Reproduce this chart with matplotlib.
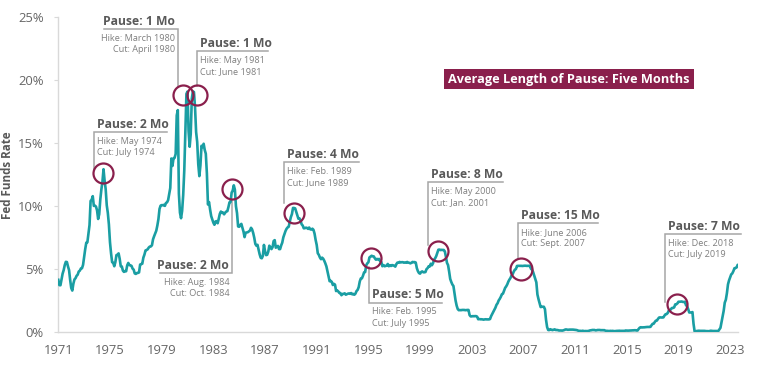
import numpy as np
import matplotlib
matplotlib.use("Agg")
import matplotlib.pyplot as plt

plt.rcParams['font.family'] = ['Open Sans', 'DejaVu Sans']

# effective fed funds rate, monthly from Jan 1971
rates = [
    4.14, 3.72, 3.71, 4.15, 4.63, 4.91, 5.31, 5.57, 5.55, 5.20, 4.91, 4.14,
    3.50, 3.29, 3.83, 4.17, 4.27, 4.46, 4.55, 4.80, 4.87, 5.04, 5.06, 5.33,
    5.94, 6.58, 7.09, 7.12, 7.84, 8.49, 10.40, 10.50, 10.78, 10.01, 10.03, 9.95,
    9.65, 8.97, 9.35, 10.51, 11.31, 11.93, 12.92, 12.01, 11.34, 10.06, 9.45, 8.53,
    7.13, 6.24, 5.54, 5.49, 5.22, 5.55, 6.10, 6.14, 6.24, 5.82, 5.22, 5.20,
    4.87, 4.77, 4.84, 4.82, 5.29, 5.48, 5.31, 5.29, 5.25, 5.03, 4.95, 4.65,
    4.61, 4.68, 4.69, 4.73, 5.35, 5.39, 5.42, 5.90, 6.14, 6.47, 6.51, 6.56,
    6.70, 6.78, 6.79, 6.89, 7.36, 7.60, 7.81, 8.04, 8.45, 8.96, 9.76, 10.03,
    10.07, 10.06, 10.09, 10.01, 10.24, 10.29, 10.47, 10.94, 11.43, 13.77, 13.18, 13.78,
    13.82, 14.13, 17.19, 17.61, 10.98, 9.47, 9.03, 9.61, 10.87, 12.81, 15.85, 18.90,
    19.08, 15.93, 14.70, 15.72, 18.52, 19.10, 19.04, 17.82, 15.87, 15.08, 13.31, 12.37,
    13.22, 14.78, 14.68, 14.94, 14.45, 14.15, 12.59, 10.12, 10.31, 9.71, 9.20, 8.95,
    8.68, 8.51, 8.77, 8.80, 8.63, 8.98, 9.37, 9.56, 9.45, 9.48, 9.34, 9.47,
    9.56, 9.59, 9.91, 10.29, 10.32, 11.06, 11.23, 11.64, 11.30, 9.99, 9.43, 8.38,
    8.35, 8.50, 8.58, 8.27, 7.97, 7.53, 7.88, 7.90, 7.92, 7.99, 8.05, 8.27,
    8.14, 7.86, 7.48, 6.99, 6.85, 6.92, 6.56, 6.17, 5.89, 5.85, 6.04, 6.91,
    6.43, 6.10, 6.13, 6.37, 6.85, 6.73, 6.58, 6.73, 7.22, 7.29, 6.69, 6.77,
    6.83, 6.58, 6.58, 6.87, 7.09, 7.51, 7.75, 8.01, 8.19, 8.30, 8.35, 8.76,
    9.12, 9.36, 9.85, 9.84, 9.81, 9.53, 9.24, 8.99, 9.02, 8.84, 8.55, 8.45,
    8.23, 8.24, 8.28, 8.26, 8.18, 8.29, 8.15, 8.13, 8.20, 8.11, 7.81, 7.31,
    6.91, 6.25, 6.12, 5.91, 5.78, 5.90, 5.82, 5.66, 5.45, 5.21, 4.81, 4.43,
    4.03, 4.06, 3.98, 3.73, 3.82, 3.76, 3.25, 3.30, 3.22, 3.10, 3.09, 2.92,
    3.02, 3.03, 3.07, 2.96, 3.00, 3.04, 3.06, 3.03, 3.09, 2.99, 3.02, 2.96,
    3.05, 3.25, 3.34, 3.56, 4.01, 4.25, 4.26, 4.47, 4.73, 4.76, 5.29, 5.45,
    5.53, 5.92, 5.98, 6.05, 6.01, 6.00, 5.85, 5.74, 5.80, 5.76, 5.80, 5.60,
    5.56, 5.22, 5.31, 5.22, 5.24, 5.27, 5.40, 5.22, 5.30, 5.24, 5.31, 5.29,
    5.25, 5.19, 5.39, 5.51, 5.50, 5.56, 5.52, 5.54, 5.54, 5.50, 5.52, 5.50,
    5.56, 5.51, 5.49, 5.45, 5.49, 5.56, 5.54, 5.55, 5.51, 5.07, 4.83, 4.68,
    4.63, 4.76, 4.81, 4.74, 4.74, 4.76, 4.99, 5.07, 5.22, 5.20, 5.42, 5.30,
    5.45, 5.73, 5.85, 6.02, 6.27, 6.53, 6.54, 6.50, 6.52, 6.51, 6.51, 6.40,
    5.98, 5.49, 5.31, 4.80, 4.21, 3.97, 3.77, 3.65, 3.07, 2.49, 2.09, 1.82,
    1.73, 1.74, 1.73, 1.75, 1.75, 1.75, 1.73, 1.74, 1.75, 1.75, 1.34, 1.24,
    1.24, 1.26, 1.25, 1.26, 1.26, 1.22, 1.01, 1.03, 1.01, 1.01, 1.00, 0.98,
    1.00, 1.01, 1.00, 1.00, 1.00, 1.03, 1.26, 1.43, 1.61, 1.76, 1.93, 2.16,
    2.28, 2.50, 2.63, 2.79, 3.00, 3.04, 3.26, 3.50, 3.62, 3.78, 4.00, 4.16,
    4.29, 4.49, 4.59, 4.79, 4.94, 4.99, 5.24, 5.25, 5.25, 5.25, 5.25, 5.24,
    5.25, 5.26, 5.26, 5.25, 5.25, 5.25, 5.26, 5.02, 4.94, 4.76, 4.49, 4.24,
    3.94, 2.98, 2.61, 2.28, 1.98, 2.00, 2.01, 2.00, 1.81, 0.97, 0.39, 0.16,
    0.15, 0.22, 0.18, 0.15, 0.18, 0.21, 0.16, 0.16, 0.15, 0.12, 0.12, 0.12,
    0.11, 0.13, 0.16, 0.20, 0.20, 0.18, 0.18, 0.19, 0.19, 0.19, 0.19, 0.18,
    0.17, 0.16, 0.14, 0.10, 0.09, 0.09, 0.07, 0.10, 0.08, 0.07, 0.08, 0.07,
    0.08, 0.10, 0.13, 0.14, 0.16, 0.16, 0.16, 0.13, 0.14, 0.16, 0.16, 0.16,
    0.14, 0.15, 0.14, 0.15, 0.11, 0.09, 0.09, 0.08, 0.08, 0.09, 0.08, 0.09,
    0.07, 0.07, 0.08, 0.09, 0.09, 0.10, 0.09, 0.09, 0.09, 0.09, 0.09, 0.12,
    0.11, 0.11, 0.11, 0.12, 0.12, 0.13, 0.13, 0.14, 0.14, 0.12, 0.12, 0.24,
    0.34, 0.38, 0.36, 0.37, 0.37, 0.38, 0.39, 0.40, 0.40, 0.40, 0.41, 0.54,
    0.65, 0.66, 0.79, 0.90, 0.91, 1.04, 1.15, 1.16, 1.15, 1.15, 1.16, 1.30,
    1.41, 1.42, 1.51, 1.69, 1.70, 1.82, 1.91, 1.91, 1.95, 2.19, 2.20, 2.27,
    2.40, 2.40, 2.41, 2.42, 2.39, 2.38, 2.40, 2.13, 2.04, 1.83, 1.55, 1.55,
    1.55, 1.58, 0.65, 0.05, 0.05, 0.08, 0.09, 0.10, 0.09, 0.09, 0.09, 0.09,
    0.09, 0.08, 0.07, 0.07, 0.06, 0.08, 0.10, 0.09, 0.08, 0.08, 0.08, 0.08,
    0.08, 0.08, 0.20, 0.33, 0.77, 1.21, 1.68, 2.33, 2.56, 3.08, 3.78, 4.10,
    4.33, 4.57, 4.65, 4.83, 5.06, 5.08, 5.12, 5.33, 5.33,
]
start_year = 1971

# pause circles (year, rate) and their labels
pause_x = [1974.45, 1980.67, 1981.70, 1984.44, 1989.23, 1995.18, 2000.40, 2006.81, 2018.90]
pause_y = [12.65, 18.80, 18.80, 11.35, 9.47, 5.85, 6.40, 5.00, 2.20]
pause_titles = ["Pause: 2 Mo", "Pause: 1 Mo", "Pause: 1 Mo", "Pause: 2 Mo", "Pause: 4 Mo",
                "Pause: 5 Mo", "Pause: 8 Mo", "Pause: 15 Mo", "Pause: 7 Mo"]
hike_labels = ["Hike: May 1974", "Hike: March 1980", "Hike: May 1981", "Hike: Aug. 1984",
               "Hike: Feb. 1989", "Hike: Feb. 1995", "Hike: May 2000", "Hike: June 2006",
               "Hike: Dec. 2018"]
cut_labels = ["Cut: July 1974", "Cut: April 1980", "Cut: June 1981", "Cut: Oct. 1984",
              "Cut: June 1989", "Cut: July 1995", "Cut: Jan. 2001", "Cut: Sept. 2007",
              "Cut: July 2019"]

x_ticks = list(range(1971, 2024, 4))
y_ticks = [0, 5, 10, 15, 20, 25]

# label layout in pixels (from top): vline x, knee y, vline end y, hline other end, side
layout = [
    (94.3, 131.7, 170, 167.3, 'r'),
    (177.7, 29.3, 87, 104.0, 'l'),
    (196.7, 51.0, 86, 268.3, 'r'),
    (231.7, 273.3, 200, 160.0, 'l'),
    (284.2, 162.3, 203, 359.3, 'r'),
    (369.0, 302.5, 267, 441.7, 'r'),
    (428.0, 181.7, 245, 502.7, 'r'),
    (517.7, 223.3, 258, 598.3, 'r'),
    (665.0, 234.0, 302, 740.7, 'r'),
]
ring_size = [14.4, 14.4, 14.4, 14.4, 14.4, 14.4, 14.4, 15.8, 14.4]

W, H = 758, 379
teal = '#1a9ea3'
maroon = '#8a1f4c'
grey_line = '#a6a6a6'

fig = plt.figure(figsize=(W / 100, H / 100), dpi=100)
ax = fig.add_axes([58.3 / W, (H - 332) / H, 679.7 / W, 315 / H])

years = start_year + np.arange(len(rates)) / 12
ax.plot(years, rates, color=teal, lw=1.9, zorder=3)

ax.set_xlim(1971, 1971 + 679.7 / 12.92)
ax.set_ylim(0, 25)
ax.set_xticks(x_ticks)
ax.set_yticks(y_ticks)
ax.set_yticklabels([f"{v}%" for v in y_ticks])
ax.tick_params(axis='x', length=0, pad=9, labelsize=9.4, labelcolor='#666666')
ax.tick_params(axis='y', length=3, color='#d9d9d9', pad=7.5, labelsize=9.4, labelcolor='#666666')
for s in ['top', 'right']:
    ax.spines[s].set_visible(False)
for s in ['left', 'bottom']:
    ax.spines[s].set_color('#d9d9d9')
    ax.spines[s].set_linewidth(1.0)

fig.text(7.5 / W, 1 - 175 / H, "Fed Funds Rate", rotation=90, ha='center', va='center',
         fontsize=8.4, fontweight='bold', color='#595959')

# circles
for i in range(len(pause_x)):
    ax.plot(pause_x[i], pause_y[i], marker='o', ms=ring_size[i], mfc='none',
            mec=maroon, mew=1.6, zorder=5)


def px(x, y):
    return ax.transData.inverted().transform((x, H - y))


for i, (vx, ky, ey, hx, side) in enumerate(layout):
    a = px(vx, ky)
    b = px(vx, ey)
    c = px(hx, ky)
    ax.plot([b[0], a[0], c[0]], [b[1], a[1], c[1]], color=grey_line, lw=1.1,
            zorder=2, clip_on=False, solid_joinstyle='miter')
    if side == 'r':
        tx, ha = vx + 3, 'left'
    else:
        tx, ha = vx - 2.5, 'right'
    t = px(tx, ky - 7.5)
    ax.text(t[0], t[1], pause_titles[i], ha=ha, va='center', fontsize=8.7,
            fontweight='bold', color='#595959')
    d1 = px(tx, ky + 9.5)
    d2 = px(tx, ky + 20.5)
    ax.text(d1[0], d1[1], hike_labels[i], ha=ha, va='center', fontsize=6.6, color='#7f7f7f')
    ax.text(d2[0], d2[1], cut_labels[i], ha=ha, va='center', fontsize=6.6, color='#7f7f7f')

fig.text(569 / W, 1 - 79 / H, "Average Length of Pause: Five Months", ha='center',
         va='center', fontsize=9.2, fontweight='bold', color='white',
         bbox=dict(boxstyle='square,pad=0.3', fc=maroon, ec='none'))

fig.savefig("out.png", dpi=100)
